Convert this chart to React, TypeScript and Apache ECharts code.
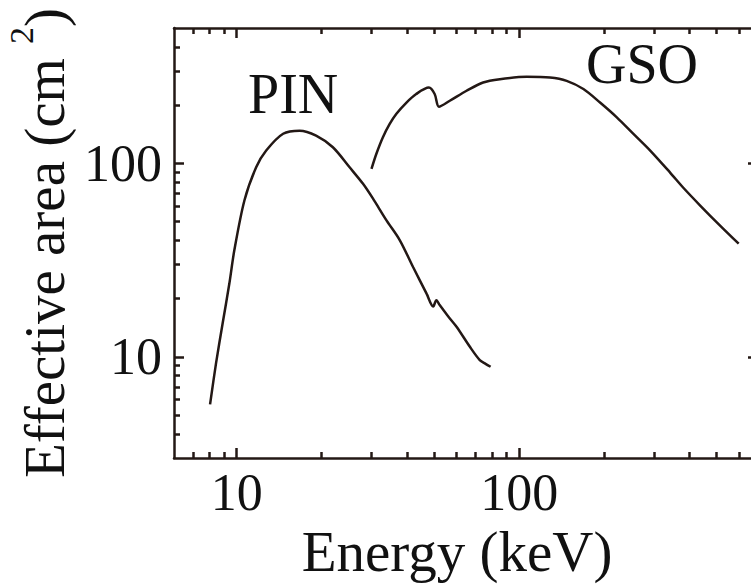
import React, { useEffect, useRef } from "react";
import * as echarts from "echarts";

// ---- data ----
const pinEnergy = [8.05, 8.45, 8.92, 9.42, 9.81, 10.65, 11.72, 12.72, 14.6, 16.7, 19.1, 21.9, 25.1, 28.0, 30.3, 33.9, 37.8, 42.1, 47.0, 49.6, 50.9, 52.3, 56.0, 60.0, 66.9, 72.5, 76.0, 79.2];
const pinArea = [5.68, 9.25, 14.9, 23.9, 35.5, 64.2, 95.3, 116.3, 142, 147.4, 139, 121, 95.3, 78.3, 66.0, 50.7, 40.0, 29.1, 21.2, 18.2, 19.6, 18.5, 16.2, 14.3, 11.26, 9.62, 9.2, 8.88];

const gsoEnergy = [30.0, 31.2, 32.9, 34.8, 36.7, 39.9, 43.2, 47.9, 50.2, 52.0, 56.8, 65.1, 74.5, 85.4, 106.2, 128.5, 147.2, 168.7, 193.2, 221.5, 253.6, 290.8, 342, 381.6, 437, 515, 598];
const gsoArea = [93.6, 111.7, 136, 159.6, 179.8, 206, 228, 246, 228, 196, 210.5, 237, 261.6, 272, 280, 277.5, 266.6, 241.8, 206, 172.7, 141.8, 116.3, 89.5, 74.5, 60.5, 47.5, 38.4];

const xMajorTicks = [10, 100];
const xMinorTicks = [7, 8, 9, 20, 30, 40, 50, 60, 70, 80, 90, 200, 300, 400, 500, 600];
const yMajorTicks = [10, 100];
const yMinorTicks = [4, 5, 6, 7, 8, 9, 20, 30, 40, 50, 60, 70, 80, 90, 200, 300, 400];

const X_MIN = 6;
const X_MAX = 700;
const Y_MIN = 3;
const Y_MAX = 500;

const INK = "#231815";
const FONT = '"Liberation Serif", "Times New Roman", serif';

export default function App() {
  const ref = useRef<HTMLDivElement>(null);

  useEffect(() => {
    if (!ref.current) return;
    const chart = echarts.init(ref.current, null, { renderer: "svg" });

    const lineStyle = { color: INK, width: 2.5 };
    const tickStyle = { color: INK, width: 2.5 };

    const mkX = (pos: string, withLabel: boolean, minor: boolean, extra: any = {}) => ({
      gridIndex: minor ? 1 : 0,
      type: "log",
      logBase: 10,
      min: X_MIN,
      max: X_MAX,
      position: pos,
      axisLine: { show: !minor, onZero: false, lineStyle },
      axisTick: {
        show: true,
        inside: true,
        length: minor ? 6 : 10,
        customValues: minor ? xMinorTicks : xMajorTicks,
        lineStyle: tickStyle,
      },
      axisLabel: withLabel
        ? {
            show: true,
            customValues: xMajorTicks,
            formatter: (v: number) => String(Math.round(v)),
            margin: 8,
            fontFamily: FONT,
            fontSize: 52,
            color: "#111",
          }
        : { show: false },
      splitLine: { show: false },
      minorTick: { show: false },
      ...extra,
    });

    const mkY = (pos: string, withLabel: boolean, minor: boolean, extra: any = {}) => ({
      gridIndex: minor ? 1 : 0,
      type: "log",
      logBase: 10,
      min: Y_MIN,
      max: Y_MAX,
      position: pos,
      axisLine: { show: !minor, onZero: false, lineStyle },
      axisTick: {
        show: true,
        inside: true,
        length: minor ? 6 : 10,
        customValues: minor ? yMinorTicks : yMajorTicks,
        lineStyle: tickStyle,
      },
      axisLabel: withLabel
        ? {
            show: true,
            customValues: yMajorTicks,
            formatter: (v: number) => String(Math.round(v)),
            margin: 12,
            fontFamily: FONT,
            fontSize: 52,
            color: "#111",
          }
        : { show: false },
      splitLine: { show: false },
      minorTick: { show: false },
      ...extra,
    });

    const gridRect = { left: 174, top: 28, width: 584, height: 430, containLabel: false, outerBoundsMode: "none" };

    chart.setOption({
      animation: false,
      backgroundColor: "#ffffff",
      grid: [{ ...gridRect }, { ...gridRect }],
      xAxis: [
        mkX("bottom", true, false, {
          name: "Energy (keV)",
          nameLocation: "middle",
          nameGap: 52,
          nameTextStyle: { fontFamily: FONT, fontSize: 57, color: "#111", padding: [0, 18, 0, 0] },
        }),
        mkX("top", false, false),
        mkX("bottom", false, true),
        mkX("top", false, true),
      ],
      yAxis: [
        mkY("left", true, false, {
          name: "{t|Effective area (cm }{s|2}{t|)}",
          nameLocation: "middle",
          nameGap: 83,
          nameRotate: 90,
          nameTextStyle: {
            fontFamily: FONT,
            color: "#111",
            rich: {
              t: { fontFamily: FONT, fontSize: 57, lineHeight: 80, color: "#111" },
              s: { fontFamily: FONT, fontSize: 34, lineHeight: 30, verticalAlign: "top", color: "#111" },
            },
          },
        }),
        mkY("right", false, false),
        mkY("left", false, true),
        mkY("right", false, true),
      ],
      series: [
        {
          name: "PIN",
          type: "line",
          xAxisIndex: 0,
          yAxisIndex: 0,
          data: pinEnergy.map((e, i) => [e, pinArea[i]]),
          showSymbol: false,
          smooth: 0.3,
          lineStyle: { color: INK, width: 2.5 },
        },
        {
          name: "GSO",
          type: "line",
          xAxisIndex: 0,
          yAxisIndex: 0,
          data: gsoEnergy.map((e, i) => [e, gsoArea[i]]),
          showSymbol: false,
          smooth: 0.3,
          lineStyle: { color: INK, width: 2.5 },
        },
      ],
      graphic: [
        {
          type: "text",
          x: 248,
          y: 94,
          style: { text: "PIN", fontFamily: FONT, fontSize: 56, fill: "#111", align: "left", verticalAlign: "middle" },
        },
        {
          type: "text",
          x: 586,
          y: 64,
          style: { text: "GSO", fontFamily: FONT, fontSize: 56, fill: "#111", align: "left", verticalAlign: "middle" },
        },
      ],
    });

    return () => chart.dispose();
  }, []);

  return (
    <div
      ref={ref}
      style={{ position: "fixed", left: 0, top: 0, width: 751, height: 584, background: "#fff" }}
    />
  );
}
